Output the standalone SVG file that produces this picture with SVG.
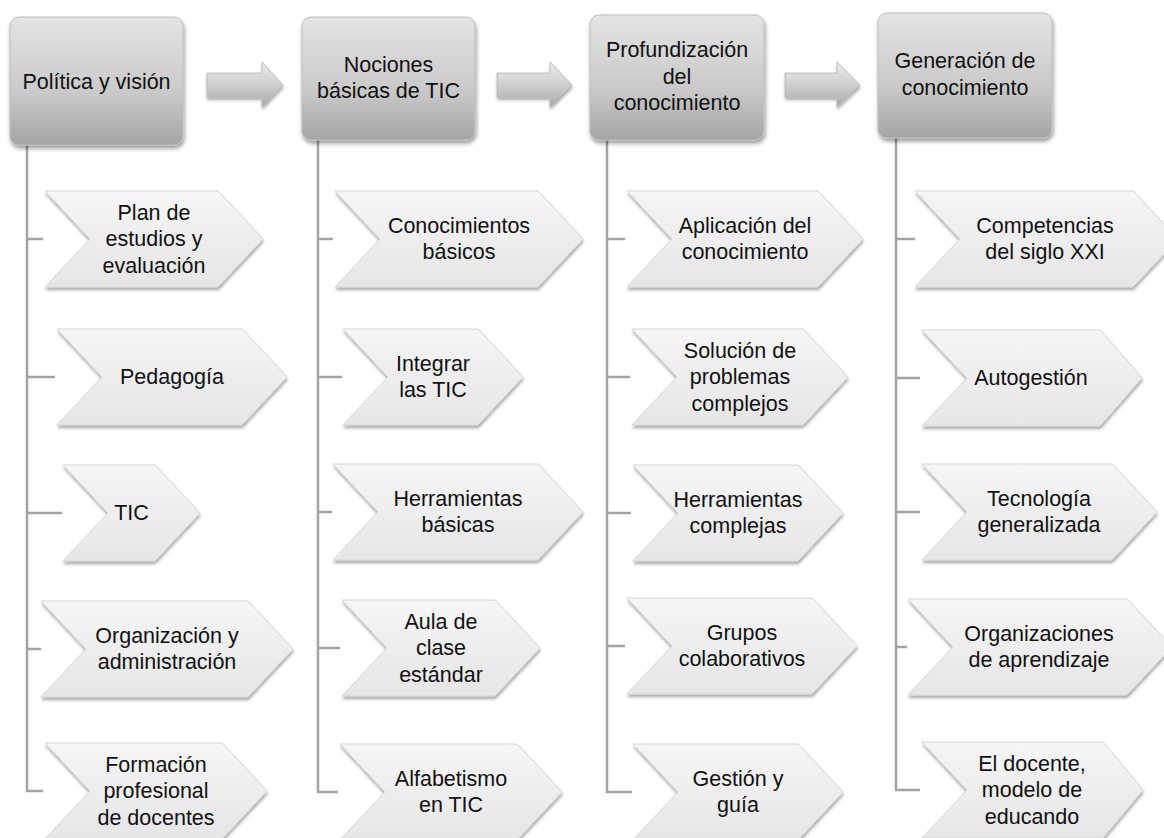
<svg xmlns="http://www.w3.org/2000/svg" width="1164" height="838" viewBox="0 0 1164 838">
<defs>
<linearGradient id="gHead" x1="0" y1="0" x2="0" y2="1">
<stop offset="0" stop-color="#e4e4e4"/><stop offset="0.6" stop-color="#c9c9c9"/><stop offset="1" stop-color="#a4a4a4"/>
</linearGradient>
<linearGradient id="gChev" x1="0" y1="0" x2="0" y2="1">
<stop offset="0" stop-color="#f6f6f6"/><stop offset="1" stop-color="#e6e6e6"/>
</linearGradient>
<linearGradient id="gArr" x1="0" y1="0" x2="0" y2="1">
<stop offset="0" stop-color="#ececec"/><stop offset="0.5" stop-color="#cfcfcf"/><stop offset="1" stop-color="#a9a9a9"/>
</linearGradient>
<filter id="sh" x="-10%" y="-10%" width="130%" height="130%">
<feDropShadow dx="1" dy="3" stdDeviation="2" flood-color="#000" flood-opacity="0.4"/>
</filter>
<filter id="shs" x="-10%" y="-10%" width="130%" height="130%">
<feDropShadow dx="0.5" dy="2.5" stdDeviation="1.5" flood-color="#000" flood-opacity="0.35"/>
</filter>
</defs>
<style>
.hd{fill:url(#gHead);stroke:#bdbdbd;stroke-width:1;filter:url(#sh)}
.ch{fill:url(#gChev);stroke:#d6d6d6;stroke-width:1;filter:url(#shs)}
.ar{fill:url(#gArr);stroke:#b5b5b5;stroke-width:0.8;filter:url(#shs)}
.ln{stroke:#a3a3a3;stroke-width:2.5;fill:none}
text{font-family:"Liberation Sans",Arial,sans-serif;font-size:21.5px;fill:#111;text-anchor:middle}
</style>
<rect width="1164" height="838" fill="#fff"/>

<g id="connectors">
<path class="ln" d="M27 145V791H43M27 239H43M27 377H55M27 513H62M27 649H41"/>
<path class="ln" d="M318 140V792H338M318 239H333M318 377H342M318 512H332M318 648H340"/>
<path class="ln" d="M607 140V792H632M607 239H625M607 377H630M607 513H631M607 646H625"/>
<path class="ln" d="M896 138V790H920M896 239H915M896 378H920M896 512H920M896 647H907"/>
<path class="ar" d="M207 73H262V62L283 85L262 107V97H207Z"/>
<path class="ar" d="M497 73H550V62L572 85L550 107V97H497Z"/>
<path class="ar" d="M785 73H837V62L860 85L837 107V97H785Z"/>
</g>

<g id="h1"><rect class="hd" x="10" y="17" width="173" height="128" rx="9"/><text x="96.5" y="89">Política y visión</text></g>
<g id="h2"><rect class="hd" x="302" y="17" width="173" height="123" rx="9"/><text x="388.5" y="72">Nociones</text><text x="388.5" y="98">básicas de TIC</text></g>
<g id="h3"><rect class="hd" x="590" y="15" width="174" height="125" rx="9"/><text x="677" y="57">Profundización</text><text x="677" y="83.5">del</text><text x="677" y="110">conocimiento</text></g>
<g id="h4"><rect class="hd" x="878" y="13" width="174" height="125" rx="9"/><text x="965" y="68">Generación de</text><text x="965" y="95">conocimiento</text></g>

<g id="c1n1"><path class="ch" d="M45 191H218L263 239L218 287H45L90 239Z"/><text x="154" y="219.5">Plan de</text><text x="154" y="246">estudios y</text><text x="154" y="272.5">evaluación</text></g>
<g id="c1n2"><path class="ch" d="M57 329H242L287 377L242 425H57L102 377Z"/><text x="172" y="384">Pedagogía</text></g>
<g id="c1n3"><path class="ch" d="M63 465H155L200 513L155 561H63L108 513Z"/><text x="131.5" y="520">TIC</text></g>
<g id="c1n4"><path class="ch" d="M41 601H248L293 649L248 697H41L86 649Z"/><text x="167" y="642.5">Organización y</text><text x="167" y="669">administración</text></g>
<g id="c1n5"><path class="ch" d="M45 743H222L267 791L222 839H45L90 791Z"/><text x="156" y="771.5">Formación</text><text x="156" y="798">profesional</text><text x="156" y="824.5">de docentes</text></g>

<g id="c2n1"><path class="ch" d="M335 191H538L583 239L538 287H335L380 239Z"/><text x="459" y="232.5">Conocimientos</text><text x="459" y="259">básicos</text></g>
<g id="c2n2"><path class="ch" d="M343 329H478L523 377L478 425H343L388 377Z"/><text x="433" y="370.5">Integrar</text><text x="433" y="397">las TIC</text></g>
<g id="c2n3"><path class="ch" d="M333 464H538L583 512L538 560H333L378 512Z"/><text x="458" y="505.5">Herramientas</text><text x="458" y="532">básicas</text></g>
<g id="c2n4"><path class="ch" d="M342 600H495L540 648L495 696H342L387 648Z"/><text x="441" y="628.5">Aula de</text><text x="441" y="655">clase</text><text x="441" y="681.5">estándar</text></g>
<g id="c2n5"><path class="ch" d="M340 744H517L562 792L517 840H340L385 792Z"/><text x="451" y="785.5">Alfabetismo</text><text x="451" y="812">en TIC</text></g>

<g id="c3n1"><path class="ch" d="M627 191H818L863 239L818 287H627L672 239Z"/><text x="745" y="232.5">Aplicación del</text><text x="745" y="259">conocimiento</text></g>
<g id="c3n2"><path class="ch" d="M632 329H803L848 377L803 425H632L677 377Z"/><text x="740" y="357.5">Solución de</text><text x="740" y="384">problemas</text><text x="740" y="410.5">complejos</text></g>
<g id="c3n3"><path class="ch" d="M633 465H798L843 513L798 561H633L678 513Z"/><text x="738" y="506.5">Herramientas</text><text x="738" y="533">complejas</text></g>
<g id="c3n4"><path class="ch" d="M627 598H812L857 646L812 694H627L672 646Z"/><text x="742" y="639.5">Grupos</text><text x="742" y="666">colaborativos</text></g>
<g id="c3n5"><path class="ch" d="M633 744H798L843 792L798 840H633L678 792Z"/><text x="738" y="785.5">Gestión y</text><text x="738" y="812">guía</text></g>

<g id="c4n1"><path class="ch" d="M915 191H1133L1178 239L1133 287H915L960 239Z"/><text x="1045" y="232.5">Competencias</text><text x="1045" y="259">del siglo XXI</text></g>
<g id="c4n2"><path class="ch" d="M922 330H1100L1142 378L1100 426H922L967 378Z"/><text x="1031" y="385">Autogestión</text></g>
<g id="c4n3"><path class="ch" d="M922 464H1112L1157 512L1112 560H922L967 512Z"/><text x="1039" y="505.5">Tecnología</text><text x="1039" y="532">generalizada</text></g>
<g id="c4n4"><path class="ch" d="M908 599H1127L1172 647L1127 695H908L953 647Z"/><text x="1039" y="640.5">Organizaciones</text><text x="1039" y="667">de aprendizaje</text></g>
<g id="c4n5"><path class="ch" d="M922 742H1103L1143 790L1103 838H922L967 790Z"/><text x="1032" y="770.5">El docente,</text><text x="1032" y="797">modelo de</text><text x="1032" y="823.5">educando</text></g>
</svg>
